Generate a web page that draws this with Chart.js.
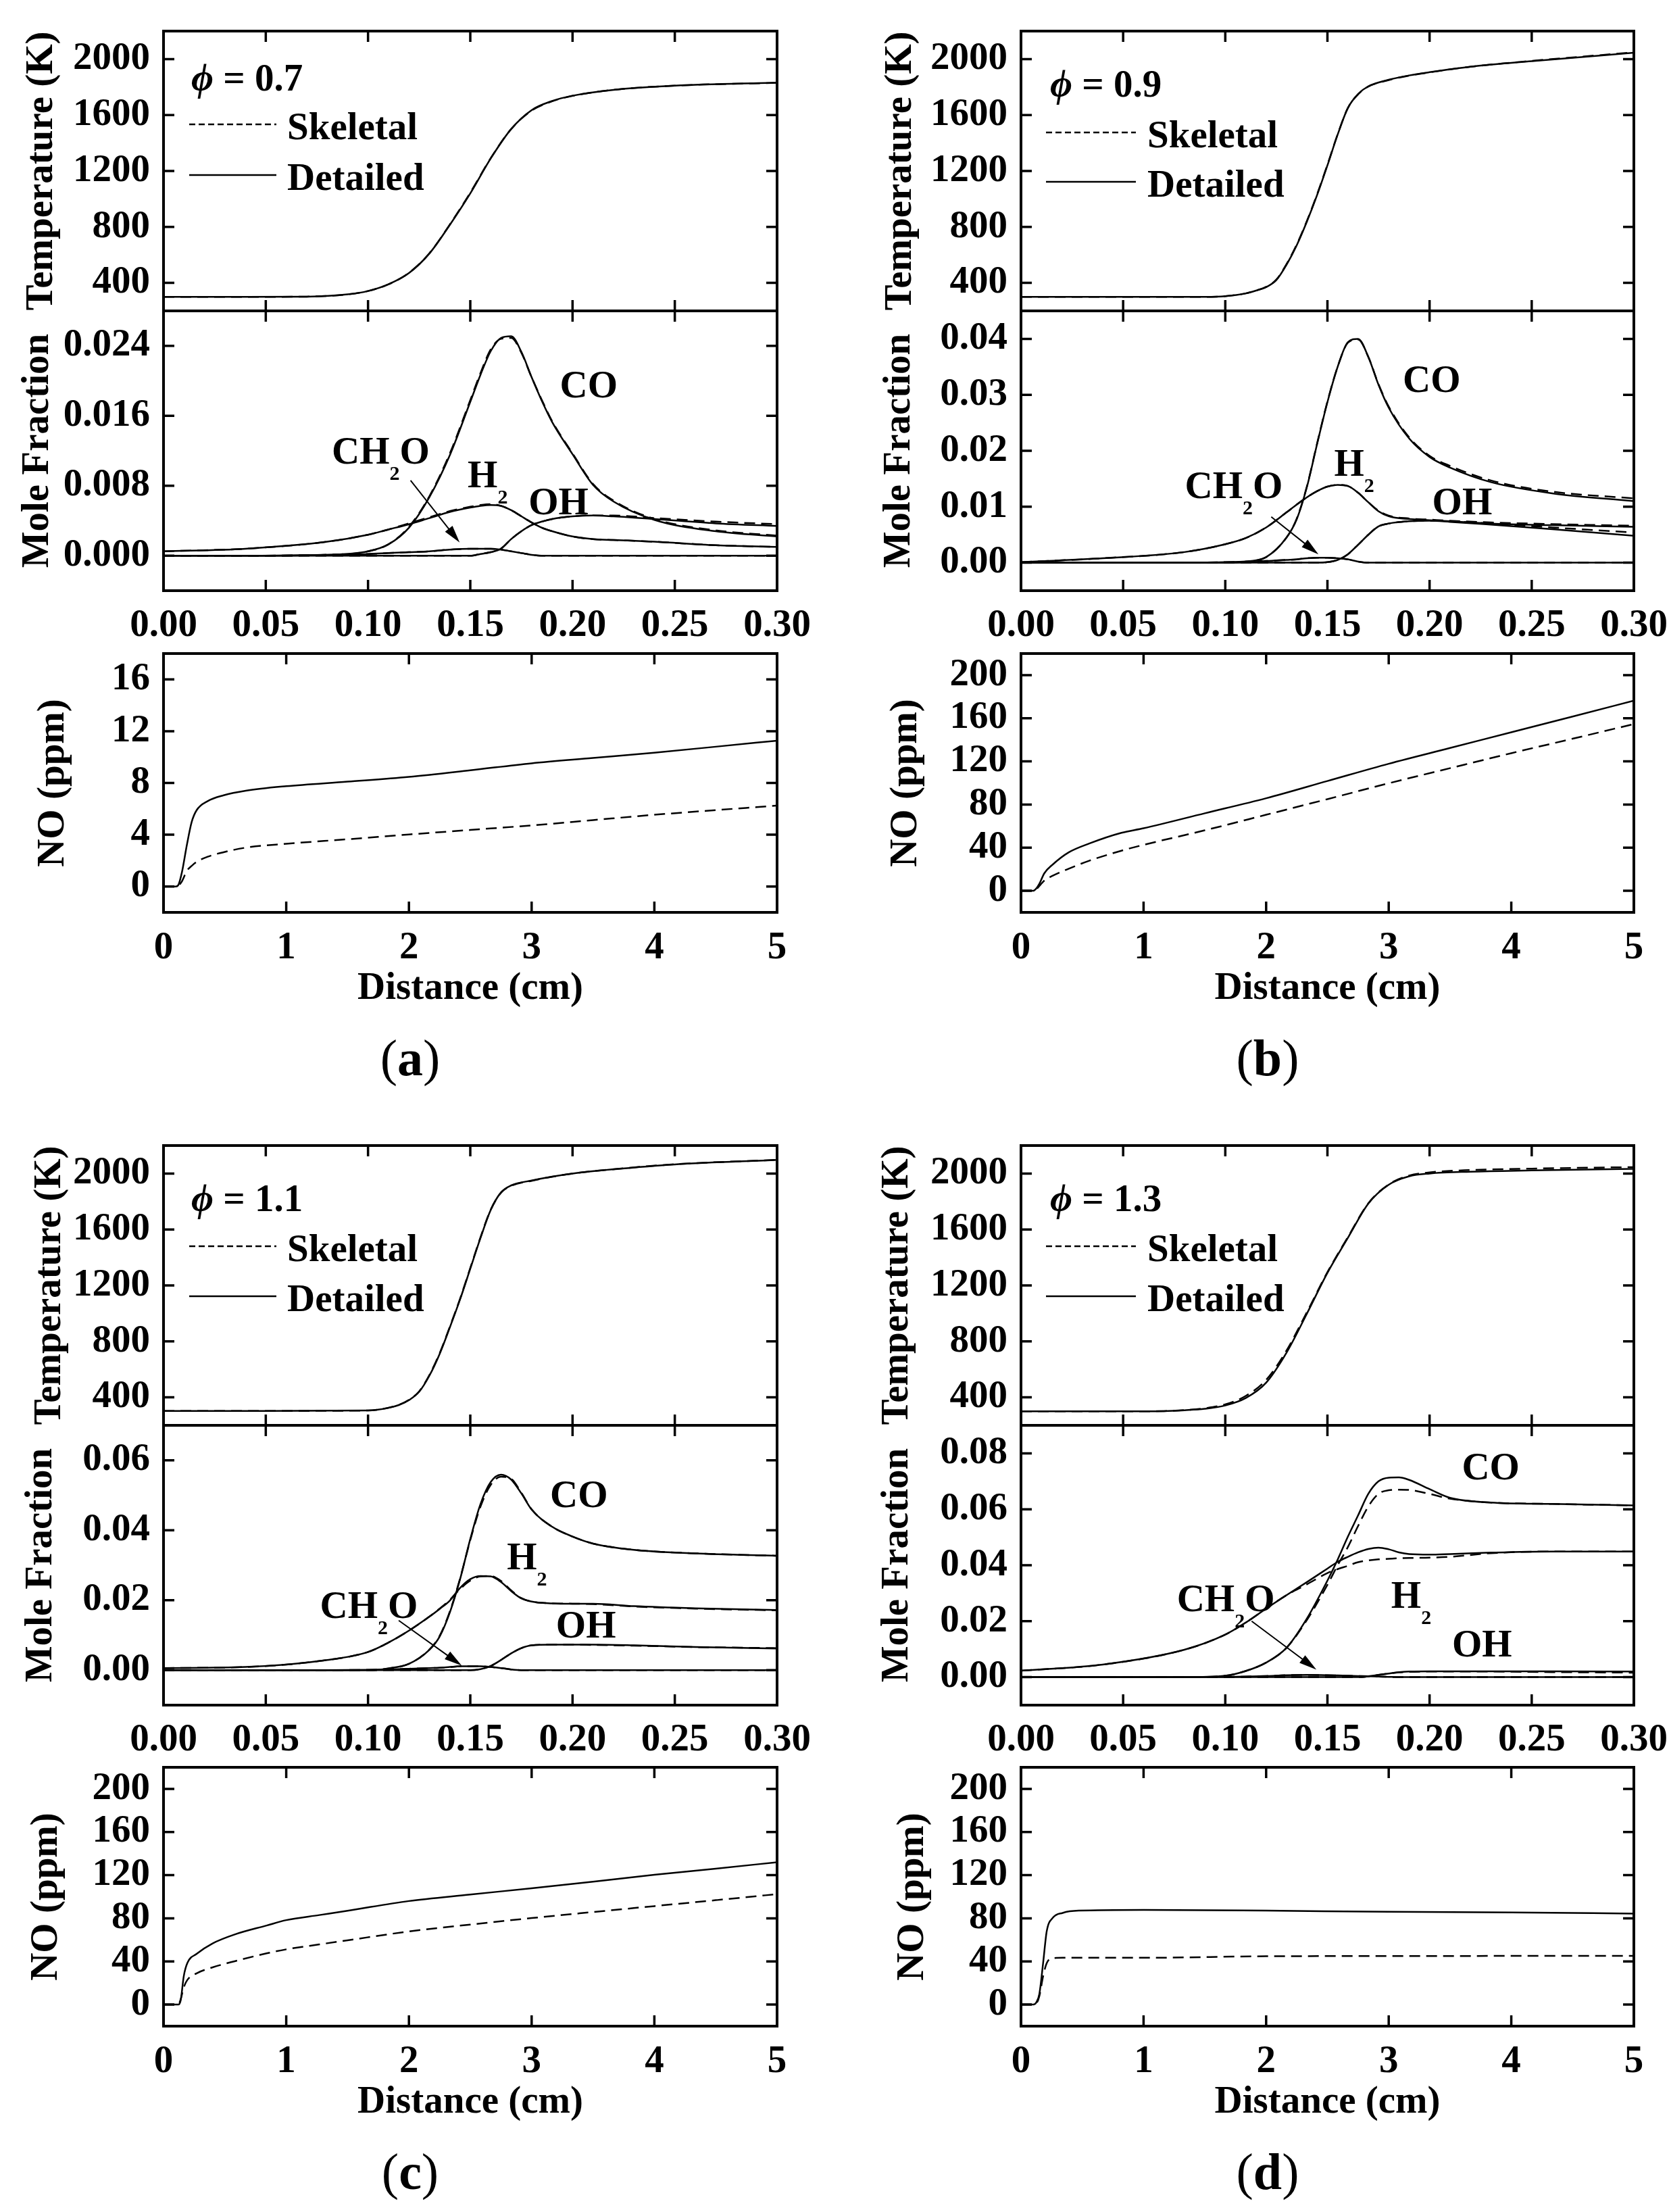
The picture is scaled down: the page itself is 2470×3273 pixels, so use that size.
<!DOCTYPE html>
<html>
<head>
<meta charset="utf-8">
<script src="https://cdn.jsdelivr.net/npm/chart.js@4.4.1/dist/chart.umd.min.js"></script>
<style>
  body { margin: 0; background: #fff; }
  #page { position: relative; width: 2470px; height: 3273px; overflow: hidden; background: #fff; }
  canvas { position: absolute; }
  .tag { position: absolute; width: 400px; text-align: center; color: #000;
         font-family: "Liberation Serif", "Times New Roman", serif; font-size: 76px; line-height: 88px; }
</style>
</head>
<body>
<div id="page"></div>
<script>
// ---- tick labels ----
const xTicksFlame = ['0.00', '0.05', '0.10', '0.15', '0.20', '0.25', '0.30'];
const xTicksDist = ['0', '1', '2', '3', '4', '5'];
const tempTicks = ['400', '800', '1200', '1600', '2000'];
const moleTicks_a = ['0.000', '0.008', '0.016', '0.024'];
const moleTicks_b = ['0.00', '0.01', '0.02', '0.03', '0.04'];
const moleTicks_c = ['0.00', '0.02', '0.04', '0.06'];
const moleTicks_d = ['0.00', '0.02', '0.04', '0.06', '0.08'];
const noTicks_a = ['0', '4', '8', '12', '16'];
const noTicks_bcd = ['0', '40', '80', '120', '160', '200'];

// ---- temperature (K) vs distance (cm) ----
const tempX_a = [0, 0.04, 0.07, 0.09, 0.10, 0.11, 0.12, 0.13, 0.14, 0.15, 0.16, 0.17, 0.18, 0.19, 0.20, 0.22, 0.25, 0.30];
const tempDet_a = [300, 300, 302, 318, 342, 390, 470, 610, 815, 1040, 1290, 1500, 1635, 1700, 1738, 1780, 1810, 1832];
const tempSke_a = [300, 300, 302, 318, 342, 390, 472, 612, 818, 1045, 1292, 1500, 1632, 1698, 1737, 1780, 1810, 1830];

const tempX_b = [0, 0.05, 0.09, 0.10, 0.11, 0.115, 0.12, 0.125, 0.13, 0.135, 0.14, 0.145, 0.15, 0.155, 0.16, 0.165, 0.17, 0.18, 0.19, 0.20, 0.22, 0.25, 0.30];
const tempDet_b = [300, 300, 300, 305, 325, 345, 370, 420, 530, 670, 840, 1030, 1240, 1460, 1650, 1750, 1805, 1852, 1883, 1906, 1945, 1985, 2045];
const tempSke_b = [300, 300, 300, 305, 325, 345, 372, 424, 535, 675, 845, 1035, 1245, 1462, 1650, 1748, 1803, 1850, 1882, 1905, 1945, 1987, 2048];

const tempX_c = [0, 0.05, 0.10, 0.11, 0.115, 0.12, 0.125, 0.13, 0.135, 0.14, 0.145, 0.15, 0.155, 0.16, 0.165, 0.17, 0.18, 0.19, 0.20, 0.22, 0.25, 0.30];
const tempDet_c = [303, 303, 306, 325, 345, 380, 440, 555, 710, 900, 1100, 1320, 1540, 1740, 1865, 1915, 1950, 1978, 2000, 2030, 2065, 2097];
const tempSke_c = [303, 303, 306, 326, 346, 382, 443, 560, 715, 905, 1105, 1325, 1545, 1742, 1862, 1912, 1948, 1977, 2000, 2031, 2066, 2098];

const tempX_d = [0, 0.05, 0.07, 0.08, 0.09, 0.10, 0.11, 0.12, 0.13, 0.14, 0.15, 0.16, 0.17, 0.18, 0.19, 0.20, 0.22, 0.25, 0.30];
const tempDet_d = [300, 300, 302, 308, 318, 342, 395, 505, 720, 1000, 1290, 1540, 1785, 1920, 1980, 2000, 2013, 2022, 2033];
const tempSke_d = [300, 300, 302, 309, 322, 350, 410, 525, 735, 1010, 1295, 1545, 1787, 1922, 1985, 2008, 2025, 2035, 2046];

// ---- mole fractions vs distance (cm) ----
const moleX_a = [0, 0.04, 0.08, 0.10, 0.11, 0.12, 0.13, 0.14, 0.15, 0.155, 0.16, 0.165, 0.17, 0.175, 0.18, 0.185, 0.19, 0.20, 0.21, 0.22, 0.24, 0.27, 0.30];
const coDet_a = [0, 0, 0.0001, 0.0005, 0.0013, 0.0032, 0.0067, 0.0115, 0.0176, 0.0207, 0.0234, 0.0249, 0.0251, 0.0233, 0.0204, 0.0177, 0.0153, 0.0116, 0.0081, 0.0062, 0.0041, 0.0028, 0.0022];
const coSke_a = [0, 0, 0.0001, 0.0005, 0.0013, 0.0033, 0.0068, 0.0117, 0.0178, 0.0209, 0.0236, 0.0248, 0.0249, 0.0232, 0.0204, 0.0178, 0.0154, 0.0117, 0.0082, 0.0063, 0.0042, 0.0029, 0.0023];
const h2Det_a = [0.0005, 0.0008, 0.0016, 0.0024, 0.003, 0.0036, 0.0043, 0.005, 0.0055, 0.0057, 0.0058, 0.0057, 0.0052, 0.0045, 0.0038, 0.0032, 0.0028, 0.0022, 0.0019, 0.0018, 0.0016, 0.0012, 0.001];
const h2Ske_a = [0.0005, 0.0008, 0.0016, 0.0024, 0.003, 0.0037, 0.0044, 0.0051, 0.0056, 0.0058, 0.0059, 0.0057, 0.0052, 0.0045, 0.0038, 0.0032, 0.0028, 0.0022, 0.0019, 0.0018, 0.0016, 0.0012, 0.001];
const ch2oDet_a = [0, 0, 0.0001, 0.0002, 0.0003, 0.0004, 0.0005, 0.0007, 0.0008, 0.0008, 0.0008, 0.0007, 0.0005, 0.0003, 0.0001, 0, 0, 0, 0, 0, 0, 0, 0];
const ch2oSke_a = [0, 0, 0.0001, 0.0002, 0.0003, 0.0004, 0.0005, 0.0007, 0.0008, 0.0008, 0.0008, 0.0007, 0.0005, 0.0003, 0.0001, 0, 0, 0, 0, 0, 0, 0, 0];
const ohDet_a = [0, 0, 0, 0, 0, 0, 0, 0, 0, 0.0002, 0.0004, 0.0008, 0.0019, 0.0028, 0.0035, 0.0039, 0.0042, 0.0045, 0.0046, 0.0045, 0.0042, 0.0037, 0.0034];
const ohSke_a = [0, 0, 0, 0, 0, 0, 0, 0, 0, 0.0002, 0.0004, 0.0008, 0.0019, 0.0028, 0.0035, 0.0039, 0.0042, 0.0045, 0.0046, 0.0046, 0.0043, 0.0039, 0.0036];

const moleX_b = [0, 0.04, 0.08, 0.10, 0.11, 0.12, 0.13, 0.135, 0.14, 0.145, 0.15, 0.155, 0.16, 0.165, 0.17, 0.175, 0.18, 0.19, 0.20, 0.21, 0.23, 0.26, 0.30];
const coDet_b = [0, 0, 0, 0, 0.0002, 0.001, 0.0045, 0.0078, 0.0136, 0.0213, 0.0287, 0.035, 0.0394, 0.04, 0.0368, 0.0318, 0.0277, 0.0222, 0.0189, 0.017, 0.0144, 0.0124, 0.011];
const coSke_b = [0, 0, 0, 0, 0.0002, 0.001, 0.0045, 0.0079, 0.0137, 0.0214, 0.0288, 0.035, 0.0393, 0.0399, 0.0368, 0.0319, 0.0279, 0.0224, 0.0191, 0.0173, 0.0147, 0.0127, 0.0115];
const h2Det_b = [0.0001, 0.0008, 0.0019, 0.0033, 0.0044, 0.0063, 0.009, 0.0104, 0.0117, 0.0128, 0.0136, 0.0139, 0.0137, 0.0125, 0.0108, 0.0092, 0.0083, 0.0078, 0.0076, 0.0074, 0.007, 0.0067, 0.0064];
const h2Ske_b = [0.0001, 0.0008, 0.0019, 0.0033, 0.0044, 0.0063, 0.009, 0.0104, 0.0117, 0.0128, 0.0136, 0.0139, 0.0137, 0.0125, 0.0108, 0.0093, 0.0084, 0.0079, 0.0077, 0.0075, 0.0072, 0.0069, 0.0066];
const ch2oDet_b = [0, 0, 0, 0.0001, 0.0002, 0.0003, 0.0005, 0.0006, 0.0008, 0.0009, 0.0009, 0.0008, 0.0006, 0.0002, 0, 0, 0, 0, 0, 0, 0, 0, 0];
const ch2oSke_b = [0, 0, 0, 0.0001, 0.0002, 0.0003, 0.0005, 0.0006, 0.0008, 0.0009, 0.0009, 0.0008, 0.0006, 0.0002, 0, 0, 0, 0, 0, 0, 0, 0, 0];
const ohDet_b = [0, 0, 0, 0, 0, 0, 0, 0, 0, 0, 0.0001, 0.0005, 0.0015, 0.0032, 0.005, 0.0065, 0.007, 0.0074, 0.0075, 0.0073, 0.0068, 0.006, 0.0048];
const ohSke_b = [0, 0, 0, 0, 0, 0, 0, 0, 0, 0, 0.0001, 0.0005, 0.0015, 0.0032, 0.005, 0.0065, 0.007, 0.0074, 0.0075, 0.0074, 0.007, 0.0063, 0.0054];

const moleX_c = [0, 0.04, 0.08, 0.10, 0.11, 0.12, 0.13, 0.135, 0.14, 0.145, 0.15, 0.155, 0.16, 0.165, 0.17, 0.175, 0.18, 0.19, 0.20, 0.21, 0.23, 0.26, 0.30];
const coDet_c = [0, 0, 0, 0, 0.0005, 0.0018, 0.0058, 0.0096, 0.0165, 0.026, 0.0375, 0.0475, 0.0538, 0.0559, 0.0545, 0.0505, 0.0459, 0.041, 0.0382, 0.0362, 0.0344, 0.0334, 0.0327];
const coSke_c = [0, 0, 0, 0, 0.0005, 0.0018, 0.0059, 0.0098, 0.0168, 0.0262, 0.0372, 0.0468, 0.053, 0.0553, 0.0547, 0.0507, 0.046, 0.041, 0.0382, 0.0362, 0.0344, 0.0334, 0.0327];
const h2Det_c = [0.0006, 0.0009, 0.0029, 0.0052, 0.0079, 0.0113, 0.0153, 0.0175, 0.0199, 0.0235, 0.026, 0.0269, 0.0268, 0.0252, 0.0226, 0.0205, 0.0196, 0.0191, 0.019, 0.019, 0.0183, 0.0177, 0.0172];
const h2Ske_c = [0.0006, 0.0009, 0.0029, 0.0052, 0.0079, 0.0113, 0.0153, 0.0176, 0.0201, 0.0232, 0.0256, 0.0268, 0.0269, 0.0255, 0.0228, 0.0206, 0.0196, 0.0191, 0.019, 0.0189, 0.0182, 0.0176, 0.0171];
const ch2oDet_c = [0, 0, 0, 0.0001, 0.0002, 0.0004, 0.0006, 0.0007, 0.0009, 0.0011, 0.0011, 0.0011, 0.0009, 0.0006, 0.0002, 0, 0, 0, 0, 0, 0, 0, 0];
const ch2oSke_c = [0, 0, 0, 0.0001, 0.0002, 0.0004, 0.0006, 0.0007, 0.0009, 0.0011, 0.0011, 0.0011, 0.0009, 0.0006, 0.0002, 0, 0, 0, 0, 0, 0, 0, 0];
const ohDet_c = [0, 0, 0, 0, 0, 0, 0, 0, 0, 0, 0, 0.0003, 0.0012, 0.0029, 0.0048, 0.0063, 0.0071, 0.0073, 0.0073, 0.0073, 0.0071, 0.0066, 0.0062];
const ohSke_c = [0, 0, 0, 0, 0, 0, 0, 0, 0, 0, 0, 0.0003, 0.0012, 0.0029, 0.0048, 0.0063, 0.0071, 0.0073, 0.0073, 0.0072, 0.007, 0.0066, 0.0063];

const moleX_d = [0, 0.04, 0.08, 0.10, 0.11, 0.12, 0.13, 0.14, 0.15, 0.155, 0.16, 0.165, 0.17, 0.175, 0.18, 0.185, 0.19, 0.20, 0.21, 0.23, 0.26, 0.30];
const coDet_d = [0, 0, 0, 0.0005, 0.0022, 0.0052, 0.0105, 0.021, 0.0345, 0.042, 0.0502, 0.0578, 0.0655, 0.07, 0.0713, 0.0714, 0.0705, 0.0672, 0.0641, 0.0624, 0.0619, 0.0614];
const coSke_d = [0, 0, 0, 0.0005, 0.0022, 0.0052, 0.0105, 0.0205, 0.033, 0.040, 0.0465, 0.054, 0.061, 0.0655, 0.0668, 0.067, 0.0669, 0.0655, 0.0638, 0.0624, 0.0619, 0.0614];
const h2Det_d = [0.0023, 0.0045, 0.0098, 0.0152, 0.0195, 0.0245, 0.0293, 0.034, 0.0388, 0.0412, 0.043, 0.0446, 0.0458, 0.0463, 0.0457, 0.0446, 0.044, 0.0438, 0.044, 0.0445, 0.0449, 0.0449];
const h2Ske_d = [0.0023, 0.0045, 0.0098, 0.0152, 0.0195, 0.0245, 0.0293, 0.0332, 0.0372, 0.0386, 0.0398, 0.0411, 0.0417, 0.0421, 0.0423, 0.0425, 0.0426, 0.0427, 0.043, 0.0443, 0.0449, 0.0449];
const ch2oDet_d = [0, 0, 0, 0.0001, 0.0002, 0.0004, 0.0007, 0.0008, 0.0007, 0.0006, 0.0005, 0.0004, 0.0003, 0.0002, 0.0001, 0, 0, 0, 0, 0, 0, 0];
const ch2oSke_d = [0, 0, 0, 0.0001, 0.0002, 0.0004, 0.0007, 0.0008, 0.0007, 0.0006, 0.0005, 0.0004, 0.0003, 0.0002, 0.0001, 0, 0, 0, 0, 0, 0, 0];
const ohDet_d = [0, 0, 0, 0, 0, 0, 0, 0, 0, 0, 0, 0, 0.0003, 0.0008, 0.0013, 0.0018, 0.002, 0.0021, 0.0021, 0.0021, 0.0021, 0.002];
const ohSke_d = [0, 0, 0, 0, 0, 0, 0, 0, 0, 0, 0, 0, 0.0003, 0.0008, 0.0013, 0.0017, 0.0019, 0.002, 0.002, 0.002, 0.0018, 0.0016];

// ---- NO (ppm) vs distance (cm) ----
const noX_a = [0, 0.08, 0.10, 0.12, 0.15, 0.19, 0.23, 0.27, 0.36, 0.49, 0.67, 1.0, 1.5, 2.0, 2.5, 3.0, 3.5, 4.0, 4.5, 5.0];
const noDet_a = [0, 0, 0, 0.1, 1.1, 3.2, 5.0, 5.9, 6.6, 7.05, 7.4, 7.75, 8.1, 8.47, 8.98, 9.52, 9.93, 10.34, 10.8, 11.27];
const noSke_a = [0, 0, 0, 0.05, 0.4, 1.2, 1.6, 1.9, 2.3, 2.65, 3.0, 3.3, 3.65, 4.02, 4.37, 4.72, 5.13, 5.54, 5.9, 6.25];

const noX_b = [0, 0.08, 0.10, 0.12, 0.15, 0.19, 0.26, 0.39, 0.56, 0.82, 1.0, 1.5, 2.0, 2.5, 3.0, 3.5, 4.0, 4.5, 5.0];
const noDet_b = [0, 0, 0, 1.5, 6.6, 16.2, 24.5, 35.7, 44, 53.8, 58, 71.9, 85.8, 101.8, 117.8, 132.4, 147, 161.6, 176.3];
const noSke_b = [0, 0, 0, 1.0, 4.5, 9.5, 14, 20.5, 28, 37.2, 42.6, 56.1, 70.5, 85, 99.7, 113.7, 127.6, 141, 154.6];

const noX_c = [0, 0.08, 0.12, 0.14, 0.165, 0.195, 0.27, 0.40, 0.58, 0.84, 1.0, 1.27, 1.5, 2.0, 2.5, 3.0, 3.5, 4.0, 4.5, 5.0];
const noDet_c = [0, 0, 0, 4, 26.3, 38.7, 47, 56.7, 65, 73.3, 78.3, 83, 87, 96, 102, 107.9, 114, 120.3, 126, 132];
const noSke_c = [0, 0, 0, 5, 16, 23, 29, 34.5, 40.2, 47.5, 51.2, 55.8, 59.6, 67.8, 74.2, 80.2, 85.8, 91.3, 96.8, 102.4];

const noX_d = [0, 0.08, 0.10, 0.125, 0.15, 0.18, 0.21, 0.26, 0.34, 0.47, 1.0, 2.0, 3.0, 4.0, 5.0];
const noDet_d = [0, 0, 0, 2, 10, 38, 68, 80.5, 85, 87.1, 87.8, 87.1, 86, 85.5, 84.4];
const noSke_d = [0, 0, 0, 1, 8, 26, 38.5, 43, 43.4, 43.4, 43.4, 44.8, 45, 45.1, 45.1];

// ---- species labels: [name, left x, centre y] in data units; arrow [x1, y1, x2, y2] ----
const labels_a = [['CO', 0.1938, 0.0196], ['CH2O', 0.0823, 0.012], ['H2', 0.1487, 0.0093], ['OH', 0.1785, 0.0062]];
const arrow_a = [0.1208, 0.0086, 0.1448, 0.0015];
const labels_b = [['CO', 0.1869, 0.0328], ['CH2O', 0.0802, 0.0138], ['H2', 0.1533, 0.0178], ['OH', 0.2013, 0.011]];
const arrow_b = [0.1225, 0.0082, 0.1456, 0.0015];
const labels_c = [['CO', 0.189, 0.0503], ['CH2O', 0.0765, 0.0186], ['H2', 0.1679, 0.0325], ['OH', 0.1919, 0.0129]];
const arrow_c = [0.115, 0.0142, 0.1458, 0.0013];
const labels_d = [['CO', 0.2158, 0.0753], ['CH2O', 0.0763, 0.0281], ['H2', 0.1812, 0.0293], ['OH', 0.211, 0.0119]];
const arrow_d = [0.1129, 0.02, 0.1446, 0.0027];

const speciesParts = {
  CO: [['CO', 0]], OH: [['OH', 0]],
  H2: [['H', 0], ['2', 1]],
  CH2O: [['CH', 0], ['2', 1], ['O', 0]]
};

// ---- layout ----
const FONT = '"Liberation Serif", "Times New Roman", serif';
const FS = 57, CAP = 19;
const COL_LEFT = [242, 1511];
const COL_W = [908, 907];
const ROW = [
  { tempTop: 46, moleTop: 460, moleBot: 874, noTop: 967, noBot: 1350 },
  { tempTop: 1695, moleTop: 2109, moleBot: 2523, noTop: 2615, noBot: 2998 }
];
const M = { l: 242, r: 80, t: 60 };

const panels = [
  { tag: 'a', phi: '0.7', col: 0, row: 0,
    temp: [tempX_a, tempDet_a, tempSke_a],
    moleX: moleX_a, mole: [[coDet_a, coSke_a], [h2Det_a, h2Ske_a], [ch2oDet_a, ch2oSke_a], [ohDet_a, ohSke_a]],
    moleTicks: moleTicks_a, moleRange: [-0.004, 0.028],
    no: [noX_a, noDet_a, noSke_a], noTicks: noTicks_a, noRange: [-2, 18],
    labels: labels_a, arrow: arrow_a,
    legend: { phiDx: 41, phiDy: 69, lineX: [38, 167], textDx: 183, skeDy: 138, detDy: 213 },
    titlePad: [28, 22, 45] },
  { tag: 'b', phi: '0.9', col: 1, row: 0,
    temp: [tempX_b, tempDet_b, tempSke_b],
    moleX: moleX_b, mole: [[coDet_b, coSke_b], [h2Det_b, h2Ske_b], [ch2oDet_b, ch2oSke_b], [ohDet_b, ohSke_b]],
    moleTicks: moleTicks_b, moleRange: [-0.005, 0.045],
    no: [noX_b, noDet_b, noSke_b], noTicks: noTicks_bcd, noRange: [-20, 220],
    labels: labels_b, arrow: arrow_b,
    legend: { phiDx: 43, phiDy: 78, lineX: [37, 170], textDx: 187, skeDy: 150, detDy: 223 },
    titlePad: [30, 28, 38] },
  { tag: 'c', phi: '1.1', col: 0, row: 1,
    temp: [tempX_c, tempDet_c, tempSke_c],
    moleX: moleX_c, mole: [[coDet_c, coSke_c], [h2Det_c, h2Ske_c], [ch2oDet_c, ch2oSke_c], [ohDet_c, ohSke_c]],
    moleTicks: moleTicks_c, moleRange: [-0.01, 0.07],
    no: [noX_c, noDet_c, noSke_c], noTicks: noTicks_bcd, noRange: [-20, 220],
    labels: labels_c, arrow: arrow_c,
    legend: { phiDx: 41, phiDy: 78, lineX: [38, 167], textDx: 183, skeDy: 149, detDy: 223 },
    titlePad: [40, 27, 35] },
  { tag: 'd', phi: '1.3', col: 1, row: 1,
    temp: [tempX_d, tempDet_d, tempSke_d],
    moleX: moleX_d, mole: [[coDet_d, coSke_d], [h2Det_d, h2Ske_d], [ch2oDet_d, ch2oSke_d], [ohDet_d, ohSke_d]],
    moleTicks: moleTicks_d, moleRange: [-0.01, 0.09],
    no: [noX_d, noDet_d, noSke_d], noTicks: noTicks_bcd, noRange: [-20, 220],
    labels: labels_d, arrow: arrow_d,
    legend: { phiDx: 43, phiDy: 78, lineX: [37, 170], textDx: 187, skeDy: 149, detDy: 223 },
    titlePad: [25, 25, 48] }
];

Chart.defaults.font.family = FONT;
Chart.defaults.font.size = FS;
Chart.defaults.font.weight = 'bold';
Chart.defaults.color = '#000';

const page = document.getElementById('page');

function addCanvas(id, left, top, width, height) {
  const c = document.createElement('canvas');
  c.id = id;
  c.width = width;
  c.height = height;
  c.style.left = left + 'px';
  c.style.top = top + 'px';
  c.style.width = width + 'px';
  c.style.height = height + 'px';
  page.appendChild(c);
  return c;
}

function series(xs, ys, dashed) {
  return {
    data: xs.map((x, i) => ({ x: x, y: ys[i] })),
    borderColor: '#000',
    borderWidth: 2.5,
    borderDash: dashed ? [16, 9] : [],
    pointRadius: 0,
    fill: false,
    cubicInterpolationMode: 'monotone'
  };
}

function axis(range, labels, show, pad, title, horizontal) {
  const vals = labels.map(Number);
  const o = {
    type: 'linear',
    min: range[0],
    max: range[1],
    grid: { display: false, drawTicks: false },
    border: { display: false },
    afterBuildTicks: s => { s.ticks = vals.map(v => ({ value: v })); },
    ticks: { display: show, autoSkip: false, maxRotation: 0, minRotation: 0, padding: pad,
             callback: (v, i) => labels[i] }
  };
  if (title) {
    o.title = {
      display: true, text: title.text, font: { size: FS, weight: 'bold' },
      padding: horizontal ? { top: 0, bottom: title.pad } : { top: title.pad, bottom: 0 }
    };
  }
  return o;
}

// closed frame with inward ticks on all four sides
const frameTicks = {
  id: 'frameTicks',
  afterDatasetsDraw(chart) {
    const { ctx, chartArea: a, scales: { x, y } } = chart;
    ctx.save();
    ctx.strokeStyle = '#000';
    ctx.setLineDash([]);
    ctx.lineWidth = 3.5;
    ctx.beginPath();
    x.ticks.forEach(t => {
      const px = x.getPixelForValue(t.value);
      ctx.moveTo(px, a.bottom); ctx.lineTo(px, a.bottom - 16);
      ctx.moveTo(px, a.top); ctx.lineTo(px, a.top + 16);
    });
    y.ticks.forEach(t => {
      const py = y.getPixelForValue(t.value);
      ctx.moveTo(a.left, py); ctx.lineTo(a.left + 16, py);
      ctx.moveTo(a.right, py); ctx.lineTo(a.right - 16, py);
    });
    ctx.stroke();
    ctx.lineWidth = 4;
    ctx.strokeRect(a.left, a.top, a.right - a.left, a.bottom - a.top);
    ctx.restore();
  }
};

function legendPlugin(p) {
  const g = p.legend;
  return {
    id: 'phiLegend',
    afterDraw(chart) {
      const { ctx, chartArea: a } = chart;
      ctx.save();
      ctx.fillStyle = '#000';
      ctx.strokeStyle = '#000';
      ctx.textBaseline = 'alphabetic';
      const px = a.left + g.phiDx, py = a.top + g.phiDy + CAP;
      ctx.font = 'italic bold ' + FS + 'px ' + FONT;
      ctx.fillText('ϕ', px, py);
      const w = ctx.measureText('ϕ').width;
      ctx.font = 'bold ' + FS + 'px ' + FONT;
      ctx.fillText(' = ' + p.phi, px + w, py);
      ctx.lineWidth = 2.5;
      [[g.skeDy, [9, 5], 'Skeletal'], [g.detDy, [], 'Detailed']].forEach(([dy, dash, txt]) => {
        ctx.setLineDash(dash);
        ctx.beginPath();
        ctx.moveTo(a.left + g.lineX[0], a.top + dy);
        ctx.lineTo(a.left + g.lineX[1], a.top + dy);
        ctx.stroke();
        ctx.setLineDash([]);
        ctx.fillText(txt, a.left + g.textDx, a.top + dy + 3 + CAP);
      });
      ctx.restore();
    }
  };
}

function drawArrow(ctx, x1, y1, x2, y2) {
  const ang = Math.atan2(y2 - y1, x2 - x1), L = 26, W = 7;
  const c = Math.cos(ang), s = Math.sin(ang);
  ctx.lineWidth = 2;
  ctx.beginPath();
  ctx.moveTo(x1, y1);
  ctx.lineTo(x2 - L * 0.7 * c, y2 - L * 0.7 * s);
  ctx.stroke();
  ctx.beginPath();
  ctx.moveTo(x2, y2);
  ctx.lineTo(x2 - L * c + W * s, y2 - L * s - W * c);
  ctx.lineTo(x2 - L * c - W * s, y2 - L * s + W * c);
  ctx.closePath();
  ctx.fill();
}

function speciesPlugin(p) {
  return {
    id: 'species',
    afterDatasetsDraw(chart) {
      const { ctx, scales: { x, y } } = chart;
      ctx.save();
      ctx.fillStyle = '#000';
      ctx.strokeStyle = '#000';
      ctx.textBaseline = 'alphabetic';
      p.labels.forEach(([name, lx, ly]) => {
        let cx = x.getPixelForValue(lx);
        const base = y.getPixelForValue(ly) + CAP;
        speciesParts[name].forEach(([t, sub]) => {
          ctx.font = sub ? 'bold 30px ' + FONT : 'bold ' + FS + 'px ' + FONT;
          ctx.fillText(t, cx, sub ? base + 24 : base);
          cx += ctx.measureText(t).width;
        });
      });
      const [ax1, ay1, ax2, ay2] = p.arrow;
      drawArrow(ctx, x.getPixelForValue(ax1), y.getPixelForValue(ay1),
                x.getPixelForValue(ax2), y.getPixelForValue(ay2));
      ctx.restore();
    }
  };
}

function makeChart(id, box, b, datasets, xOpt, yOpt, extra) {
  const cv = addCanvas(id, box.left - M.l, box.top - M.t, M.l + box.w + M.r, M.t + box.h + b);
  xOpt.position = 'bottom';
  xOpt.afterFit = s => { s.height = b; };
  yOpt.position = 'left';
  yOpt.afterFit = s => { s.width = M.l; };
  return new Chart(cv, {
    type: 'line',
    data: { datasets: datasets },
    options: {
      responsive: false,
      devicePixelRatio: 1,
      animation: false,
      layout: { padding: { left: 0, top: M.t, right: M.r, bottom: 0 } },
      plugins: { legend: { display: false }, tooltip: { enabled: false } },
      scales: { x: xOpt, y: yOpt }
    },
    plugins: [frameTicks].concat(extra || [])
  });
}

panels.forEach(p => {
  const L = COL_LEFT[p.col], W = COL_W[p.col], R = ROW[p.row];

  makeChart('temp_' + p.tag, { left: L, top: R.tempTop, w: W, h: R.moleTop - R.tempTop }, 60,
    [series(p.temp[0], p.temp[1], false), series(p.temp[0], p.temp[2], true)],
    axis([0, 0.3], xTicksFlame, false, 18),
    axis([200, 2200], tempTicks, true, 20, { text: 'Temperature (K)', pad: p.titlePad[0] }),
    [legendPlugin(p)]);

  const moleSets = [];
  p.mole.forEach(pair => moleSets.push(series(p.moleX, pair[0], false)));
  p.mole.forEach(pair => moleSets.push(series(p.moleX, pair[1], true)));
  makeChart('mole_' + p.tag, { left: L, top: R.moleTop, w: W, h: R.moleBot - R.moleTop }, 140,
    moleSets,
    axis([0, 0.3], xTicksFlame, true, 18),
    axis(p.moleRange, p.moleTicks, true, 20, { text: 'Mole Fraction', pad: p.titlePad[1] }),
    [speciesPlugin(p)]);

  makeChart('no_' + p.tag, { left: L, top: R.noTop, w: W, h: R.noBot - R.noTop }, 170,
    [series(p.no[0], p.no[1], false), series(p.no[0], p.no[2], true)],
    axis([0, 5], xTicksDist, true, 19, { text: 'Distance (cm)', pad: 23 }, true),
    axis(p.noRange, p.noTicks, true, 20, { text: 'NO (ppm)', pad: p.titlePad[2] }));

  const tag = document.createElement('div');
  tag.className = 'tag';
  tag.style.left = (L + 365 - 200) + 'px';
  tag.style.top = (R.noBot + 222 - 51) + 'px';
  tag.innerHTML = '(<b>' + p.tag + '</b>)';
  page.appendChild(tag);
});
</script>
</body>
</html>
